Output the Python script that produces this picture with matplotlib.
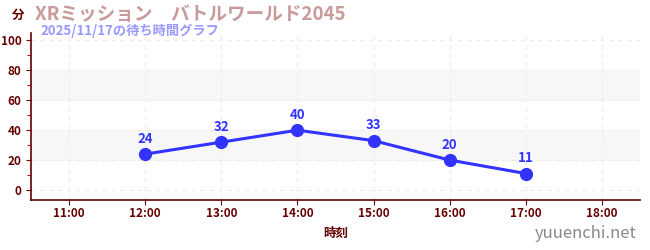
import matplotlib
matplotlib.use("Agg")
import matplotlib.pyplot as plt
from matplotlib.ticker import MultipleLocator, FixedLocator

plt.rcParams['font.family'] = ['Noto Sans CJK JP', 'DejaVu Sans']

# data
hours = [12, 13, 14, 15, 16, 17]
waits = [24, 32, 40, 33, 20, 11]
tick_hours = [11, 12, 13, 14, 15, 16, 17, 18]
tick_labels = ["11:00", "12:00", "13:00", "14:00", "15:00", "16:00", "17:00", "18:00"]
title = "XRミッション　バトルワールド2045"
subtitle = "2025/11/17の待ち時間グラフ"

axis_col = "#660000"
line_col = "#3333ff"

fig = plt.figure(figsize=(6.5, 2.5), dpi=100)
ax = fig.add_axes([31 / 650, 50 / 250, (640 - 31) / 650, (200 - 33) / 250])

ax.set_xlim(10.5, 18.5)
ax.set_ylim(-6.7, 105)

# alternating bands
for lo, hi in [(20, 40), (60, 80)]:
    ax.axhspan(lo, hi, color="#f7f7f7", zorder=0)

ax.grid(True, color="#ececec", linestyle=(0, (4, 4)), linewidth=0.8, zorder=0)

ax.plot(hours, waits, color=line_col, linewidth=2.2, marker="o", markersize=8.5, zorder=3)
for h, w in zip(hours, waits):
    ax.annotate(str(w), (h, w), xytext=(0, 6), textcoords="offset points",
                ha="center", va="bottom", color=line_col, fontsize=9.5, fontweight="bold")

ax.xaxis.set_major_locator(FixedLocator(tick_hours))
ax.set_xticklabels(tick_labels)
ax.yaxis.set_major_locator(MultipleLocator(20))
ax.yaxis.set_minor_locator(MultipleLocator(10))
ax.tick_params(axis="both", which="major", colors=axis_col, labelsize=8.5, length=3.5, width=0.8)
ax.tick_params(axis="x", which="major", pad=1.5)
ax.tick_params(axis="y", which="minor", colors="#cc0000", length=3, width=0.8)
for lab in ax.get_xticklabels() + ax.get_yticklabels():
    lab.set_fontweight("bold")

for s in ["top", "right"]:
    ax.spines[s].set_visible(False)
for s in ["left", "bottom"]:
    ax.spines[s].set_color(axis_col)
    ax.spines[s].set_linewidth(1.2)

ax.set_xlabel("時刻", color=axis_col, fontsize=9, fontweight="bold", labelpad=5)

fig.text(12 / 650, 1 - 15 / 250, "分", color=axis_col, fontsize=9, fontweight="bold", va="center")
fig.text(35 / 650, 1 - 14 / 250, title, color="#c89a9a", fontsize=13.4, fontweight="bold", va="center")
fig.text(40 / 650, 1 - 31 / 250, subtitle, color="#9999ff", fontsize=9.5, fontweight="bold", va="center")
fig.text(637 / 650, 1 - 234 / 250, "yuuenchi.net", color="#888888", fontsize=12, ha="right", va="center")

fig.savefig("out.png", dpi=100)
